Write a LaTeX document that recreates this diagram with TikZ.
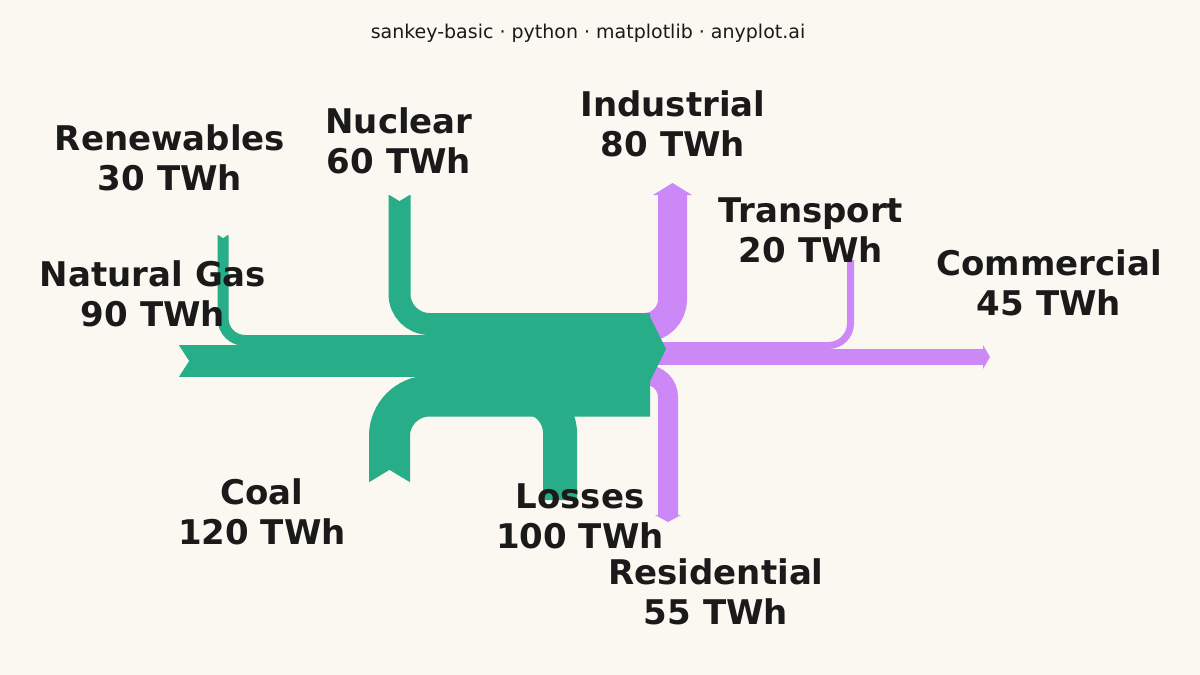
\documentclass[tikz,border=0pt]{standalone}
\usepackage{fontspec}
\setmainfont{DejaVu Sans}
\definecolor{bgcol}{HTML}{FAF8F1}
\definecolor{flowin}{HTML}{27AD87}
\definecolor{flowout}{HTML}{CC88F7}
\definecolor{inkcol}{HTML}{1A1A1A}
\begin{document}
\begin{tikzpicture}[
    x=1pt, y=-1pt,
    band/.style={line cap=butt, rounded corners=#1},
    band/.default=30,
    lab/.style={text=inkcol, font=\fontsize{34}{40}\selectfont\bfseries, align=center}
  ]
  \fill[bgcol] (0,0) rectangle (1200,675);
  \useasboundingbox (0,0) rectangle (1200,675);
  % Outgoing flows.
  \begin{scope}[flowout]
    \draw[band=28, line width=29] (640,327.5) -- (672.5,327.5) -- (672.5,194);
    \fill (653,195) -- (672.5,183) -- (692,195) -- cycle;
    \draw[band=22, line width=7] (640,345.5) -- (850.5,345.5) -- (850.5,260);
    \draw[band, line width=16] (640,357) -- (984,357);
    \fill (983,345) -- (990,357) -- (983,369) -- cycle;
    \draw[band=22, line width=20] (640,375) -- (668,375) -- (668,516);
    \fill (655,515) -- (668,522) -- (681,515) -- cycle;
  \end{scope}
  % Incoming flows.
  \begin{scope}[flowin]
    \draw[band=30, line width=22] (399.5,195) -- (399.5,324) -- (650,324);
    \draw[band=22, line width=11] (223,235) -- (223,340.5) -- (650,340.5);
    \draw[band, line width=32] (179,361) -- (650,361);
    \draw[band=40, line width=41] (389.5,482) -- (389.5,396) -- (650,396);
    \draw[band=36, line width=34] (420,397) -- (560,397) -- (560,500);
    \fill (640,313) -- (648,313) -- (666,349) -- (648,385) -- (640,385) -- cycle;
  \end{scope}
  % Notches at the tails.
  \fill[bgcol] (178,344) -- (189,361) -- (178,378) -- cycle;
  \fill[bgcol] (388,194) -- (399.5,201) -- (411,194) -- cycle;
  \fill[bgcol] (217,234) -- (223,238) -- (229,234) -- cycle;
  \fill[bgcol] (368,483) -- (389.5,470) -- (411,483) -- cycle;
  % Labels.
  \node[text=inkcol, font=\fontsize{19}{22}\selectfont] (title) at (588,33) {sankey-basic · python · matplotlib · anyplot.ai};
  \node[lab] (renew) at (170,158) {Renewables\\30 TWh};
  \node[lab] (nuclear) at (399,141) {Nuclear\\60 TWh};
  \node[lab] (industry) at (673,124) {Industrial\\80 TWh};
  \node[lab] (transport) at (811,230) {Transport\\20 TWh};
  \node[lab] (commerce) at (1049,283) {Commercial\\45 TWh};
  \node[lab] (gas) at (153,294) {Natural Gas\\90 TWh};
  \node[lab] (coal) at (262,512) {Coal\\120 TWh};
  \node[lab] (losses) at (580,516) {Losses\\100 TWh};
  \node[lab] (resident) at (716,592) {Residential\\55 TWh};
\end{tikzpicture}
\end{document}
